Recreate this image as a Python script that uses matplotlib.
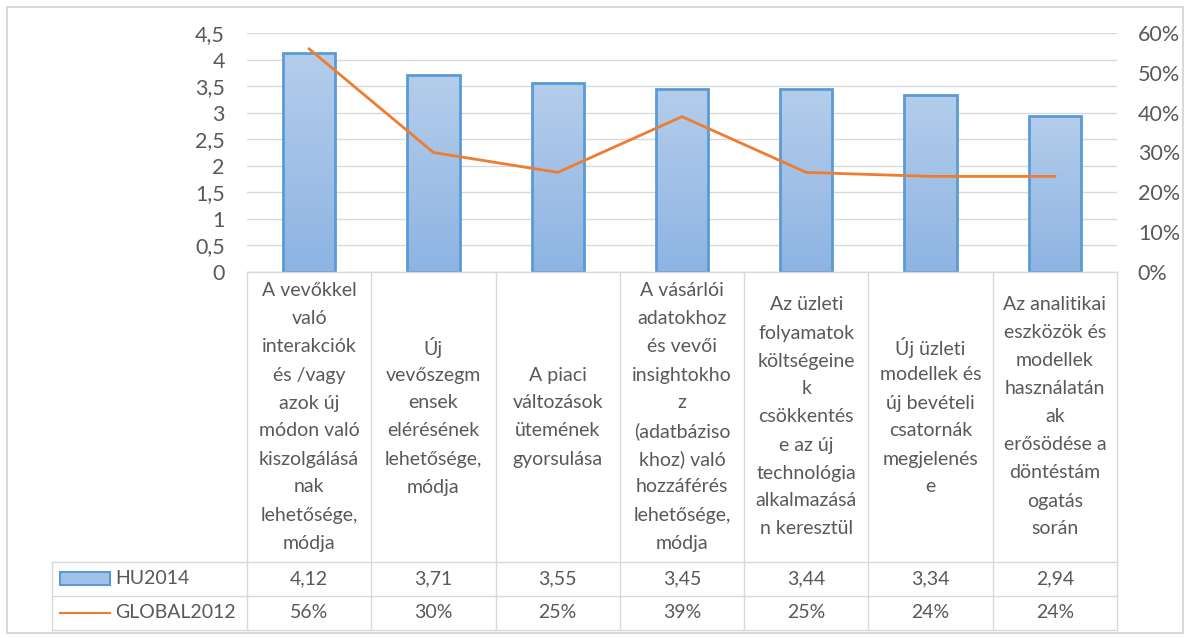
import numpy as np
import matplotlib
matplotlib.use('Agg')
import matplotlib.pyplot as plt
from matplotlib.colors import LinearSegmentedColormap
from matplotlib.patches import Rectangle
from matplotlib.lines import Line2D
from matplotlib.ticker import FuncFormatter

categories = [
    ['A vevőkkel', 'való', 'interakciók', 'és /vagy', 'azok új', 'módon való',
     'kiszolgálásá', 'nak', 'lehetősége,', 'módja'],
    ['Új', 'vevőszegm', 'ensek', 'elérésének', 'lehetősége,', 'módja'],
    ['A piaci', 'változások', 'ütemének', 'gyorsulása'],
    ['A vásárlói', 'adatokhoz', 'és vevői', 'insightokho', 'z', '(adatbáziso',
     'khoz) való', 'hozzáférés', 'lehetősége,', 'módja'],
    ['Az üzleti', 'folyamatok', 'költségeine', 'k', 'csökkentés', 'e az új',
     'technológia', 'alkalmazásá', 'n keresztül'],
    ['Új üzleti', 'modellek és', 'új bevételi', 'csatornák', 'megjelenés', 'e'],
    ['Az analitikai', 'eszközök és', 'modellek', 'használatán', 'ak',
     'erősödése a', 'döntéstám', 'ogatás', 'során'],
]
hu2014 = [4.12, 3.71, 3.55, 3.45, 3.44, 3.34, 2.94]
global2012 = [0.56, 0.30, 0.25, 0.39, 0.25, 0.24, 0.24]
series_names = ['HU2014', 'GLOBAL2012']

W, H = 1189, 638
TXT = '#595959'
GRID = '#D9D9D9'
BAR_EDGE = '#5B9BD5'
ORANGE = '#ED7D31'
plt.rcParams['font.family'] = ['Lato', 'DejaVu Sans']
FS = 14
TICK_FS = 15.5

fig = plt.figure(figsize=(W / 100, H / 100), dpi=100)


def fx(px):
    return px / W


def fy(py):
    return 1 - py / H


# plot area
x0, x1 = 247, 1117
y_top, y_base = 33, 272
ax = fig.add_axes([fx(x0), fy(y_base), fx(x1) - fx(x0), fy(y_top) - fy(y_base)])
n = len(hu2014)
xs = np.arange(n)
ax.set_xlim(-0.5, n - 0.5)
ax.set_ylim(0, 4.5)
ax.set_yticks(np.arange(0, 4.51, 0.5))
ax.yaxis.set_major_formatter(FuncFormatter(lambda v, p: f'{v:g}'.replace('.', ',')))
ax.grid(axis='y', color=GRID, linewidth=1)
ax.set_axisbelow(True)
ax.set_xticks([])
for s in ax.spines.values():
    s.set_visible(False)
ax.tick_params(axis='y', length=0, labelsize=TICK_FS, labelcolor=TXT, pad=16)

# gradient-filled bars
cmap = LinearSegmentedColormap.from_list('barfill', ['#8EB4E3', '#B4CDEB'])
grad = np.linspace(0, 1, 256).reshape(-1, 1)
bw = 0.42
for xi, v in zip(xs, hu2014):
    rect = Rectangle((xi - bw / 2, 0), bw, v, facecolor='none',
                     edgecolor=BAR_EDGE, linewidth=2, zorder=3)
    ax.add_patch(rect)
    im = ax.imshow(grad, extent=[xi - bw / 2, xi + bw / 2, 0, v], origin='lower',
                   aspect='auto', cmap=cmap, zorder=2)
    im.set_clip_path(rect)
ax.set_xlim(-0.5, n - 0.5)
ax.set_ylim(0, 4.5)

# secondary axis with the line
ax2 = ax.twinx()
ax2.set_ylim(0, 0.6)
ax2.set_yticks(np.arange(0, 0.61, 0.1))
ax2.yaxis.set_major_formatter(FuncFormatter(lambda v, p: f'{v * 100:.0f}%'))
ax2.plot(xs, global2012, color=ORANGE, linewidth=2, zorder=4)
for s in ax2.spines.values():
    s.set_visible(False)
ax2.tick_params(axis='y', length=0, labelsize=TICK_FS, labelcolor=TXT, pad=15)
ax2.set_xlim(-0.5, n - 0.5)

# data table
col_w = (x1 - x0) / n
legend_left = 52
row_hdr_bot = 562
row1_bot = 596
row2_bot = 630
lw = 1


def hline(y, xa, xb):
    fig.add_artist(Line2D([fx(xa), fx(xb)], [fy(y), fy(y)], color=GRID, lw=lw))


def vline(x, ya, yb):
    fig.add_artist(Line2D([fx(x), fx(x)], [fy(ya), fy(yb)], color=GRID, lw=lw))


hline(y_base, x0, x1)
hline(row_hdr_bot, legend_left, x1)
hline(row1_bot, legend_left, x1)
hline(row2_bot, legend_left, x1)
vline(legend_left, row_hdr_bot, row2_bot)
for i in range(n + 1):
    vline(x0 + i * col_w, y_base, row2_bot)

line_h = 28
hdr_mid = (y_base + row_hdr_bot) / 2
for i, lines in enumerate(categories):
    cx = x0 + (i + 0.5) * col_w
    k = len(lines)
    for j, t in enumerate(lines):
        cy = hdr_mid + (j - (k - 1) / 2) * line_h
        fig.text(fx(cx), fy(cy), t, ha='center', va='center', fontsize=FS, color=TXT)

r1_mid = (row_hdr_bot + row1_bot) / 2
r2_mid = (row1_bot + row2_bot) / 2
for i in range(n):
    cx = x0 + (i + 0.5) * col_w
    fig.text(fx(cx), fy(r1_mid), f'{hu2014[i]:.2f}'.replace('.', ','),
             ha='center', va='center', fontsize=FS, color=TXT)
    fig.text(fx(cx), fy(r2_mid), f'{global2012[i] * 100:.0f}%',
             ha='center', va='center', fontsize=FS, color=TXT)

# legend keys inside the table
fig.add_artist(Rectangle((fx(60), fy(585)), fx(110) - fx(60), fy(572) - fy(585),
                         facecolor='#A3C1E7', edgecolor=BAR_EDGE, lw=1.5,
                         transform=fig.transFigure))
fig.add_artist(Line2D([fx(60), fx(110)], [fy(r2_mid), fy(r2_mid)], color=ORANGE, lw=1.5))
fig.text(fx(115), fy(r1_mid), series_names[0], ha='left', va='center', fontsize=FS, color=TXT)
fig.text(fx(115), fy(r2_mid), series_names[1], ha='left', va='center', fontsize=FS, color=TXT)

# chart border
fig.add_artist(Rectangle((fx(7), fy(633)), fx(1183) - fx(7), fy(7) - fy(633),
                         facecolor='none', edgecolor=GRID, lw=1.5,
                         transform=fig.transFigure))

fig.savefig('out.png', dpi=100)
